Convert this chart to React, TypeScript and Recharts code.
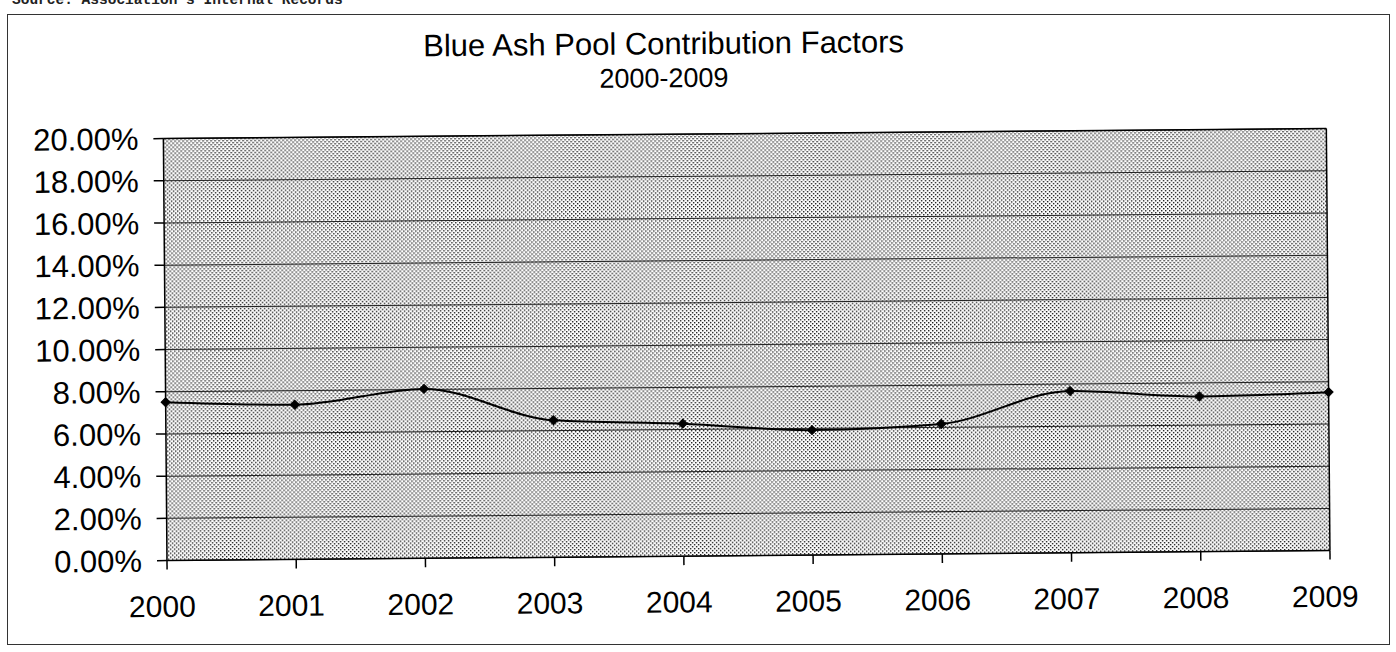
import React from 'react';
import { LineChart, Line, XAxis, YAxis, CartesianGrid, ReferenceLine } from 'recharts';

// values
const years = ['2000', '2001', '2002', '2003', '2004', '2005', '2006', '2007', '2008', '2009'];
const contributionPct = [7.5, 7.33, 8.03, 6.49, 6.28, 5.92, 6.16, 7.67, 7.36, 7.51];
const yTicks = [0, 2, 4, 6, 8, 10, 12, 14, 16, 18, 20];

const chartTitle = 'Blue Ash Pool Contribution Factors';
const chartSubtitle = '2000-2009';
const sourceNote = "Source: Association's Internal Records";

const data = years.map((year, i) => ({ year, value: contributionPct[i] }));

const FONT = '"Liberation Sans", Arial, sans-serif';

const Diamond = (props: any) => {
  const { cx, cy } = props;
  if (cx == null || cy == null) return null;
  const r = 4.5;
  return (
    <polygon
      points={`${cx},${cy - r} ${cx + r},${cy} ${cx},${cy + r} ${cx - r},${cy}`}
      fill="#000"
      stroke="#000"
    />
  );
};

const titleStyle: React.CSSProperties = {
  position: 'absolute',
  left: 666,
  transform: 'translateX(-50%)',
  whiteSpace: 'nowrap',
  fontFamily: FONT,
  color: '#000',
};

export default function App() {
  return (
    <div style={{ position: 'absolute', left: 0, top: 0, width: 1396, height: 652, background: '#fff', overflow: 'hidden' }}>
      <div
        style={{
          position: 'absolute',
          left: 12,
          top: -8,
          fontFamily: '"Liberation Mono", monospace',
          fontSize: 14.5,
          fontWeight: 'bold',
          color: '#222',
          whiteSpace: 'nowrap',
        }}
      >
        {sourceNote}
      </div>
      <div
        style={{
          position: 'absolute',
          left: 7,
          top: 14,
          width: 1383,
          height: 631,
          border: '1px solid #333',
          boxSizing: 'border-box',
        }}
      />
      <div style={{ position: 'absolute', left: 0, top: 0, width: 1396, height: 652, transform: 'rotate(-0.49deg)' }}>
        <div style={{ ...titleStyle, top: 30.25, fontSize: 31, lineHeight: '28px' }}>{chartTitle}</div>
        <div style={{ ...titleStyle, top: 64.65, fontSize: 27, lineHeight: '26px' }}>{chartSubtitle}</div>
        <div style={{ position: 'absolute', left: 0, top: 0 }}>
          <LineChart width={1396} height={652} data={data} margin={{ top: 134, right: 68, bottom: 36, left: 0 }}>
            <defs>
              <pattern id="dots" width="4" height="4" patternUnits="userSpaceOnUse">
                <rect x="0" y="0" width="4" height="4" fill="#fff" />
                <rect x="0" y="0" width="1.4" height="1.4" fill="#1a1a1a" />
                <rect x="2" y="2" width="1.4" height="1.4" fill="#1a1a1a" />
              </pattern>
            </defs>
            <CartesianGrid vertical={false} stroke="#222" strokeWidth={1} fill="url(#dots)" fillOpacity={1} />
            <XAxis
              dataKey="year"
              height={60}
              axisLine={{ stroke: '#000', strokeWidth: 1.5 }}
              tickLine={{ stroke: '#000', strokeWidth: 1.5 }}
              tickSize={9}
              tickMargin={26}
              tick={{ fontSize: 30, fontFamily: FONT, fill: '#000', dx: -5 }}
              interval={0}
            />
            <YAxis
              domain={[0, 20]}
              ticks={yTicks}
              width={165}
              axisLine={{ stroke: '#000', strokeWidth: 1.5 }}
              tickLine={{ stroke: '#000', strokeWidth: 1.5 }}
              tickSize={10}
              tickMargin={15}
              tick={{ fontSize: 31, fontFamily: FONT, fill: '#000' }}
              tickFormatter={(v: number) => v.toFixed(2) + '%'}
              interval={0}
            />
            <ReferenceLine y={20} stroke="#000" strokeWidth={1.5} />
            <ReferenceLine x="2009" stroke="#000" strokeWidth={1.5} />
            <Line
              type="monotone"
              dataKey="value"
              stroke="#000"
              strokeWidth={2}
              dot={<Diamond />}
              activeDot={false}
              isAnimationActive={false}
            />
          </LineChart>
        </div>
      </div>
    </div>
  );
}
